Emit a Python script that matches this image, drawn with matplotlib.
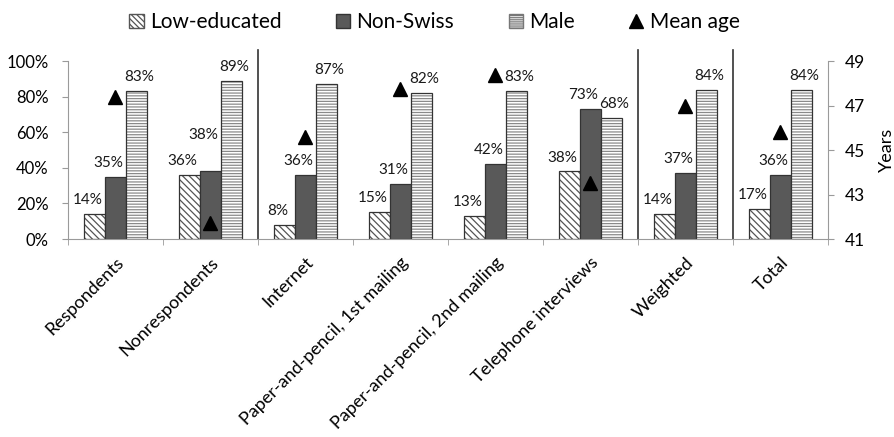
import numpy as np
import matplotlib
matplotlib.use("Agg")
import matplotlib.pyplot as plt
from matplotlib.patches import Patch
from matplotlib.lines import Line2D

plt.rcParams["font.family"] = ["Lato", "DejaVu Sans"]
plt.rcParams["hatch.linewidth"] = 0.9

# data
categories = ["Respondents", "Nonrespondents", "Internet",
              "Paper-and-pencil, 1st mailing", "Paper-and-pencil, 2nd mailing",
              "Telephone interviews", "Weighted", "Total"]
low_educated = [14, 36, 8, 15, 13, 38, 14, 17]
non_swiss = [35, 38, 36, 31, 42, 73, 37, 36]
male = [83, 89, 87, 82, 83, 68, 84, 84]
mean_age = [47.4, 41.7, 45.6, 47.75, 48.4, 43.5, 47.0, 45.8]
separators_after = [1, 5, 6]  # vertical lines after these categories

x = np.arange(len(categories))
w = 0.22
edge = "#333333"
axis_gray = "#9a9a9a"

fig = plt.figure(figsize=(8.94, 4.37), dpi=100)
ax = fig.add_axes([0.076, 0.453, 0.850, 0.407])


def hatched_bars(xpos, vals, hatch, hatch_color):
    # hatch drawn in its own colour, outline drawn on top in dark grey
    ax.bar(xpos, vals, w, facecolor="white", edgecolor=hatch_color, hatch=hatch,
           linewidth=0)
    return ax.bar(xpos, vals, w, facecolor="none", edgecolor=edge, linewidth=0.9)


b1 = hatched_bars(x - w, low_educated, "\\\\\\\\\\", "#555555")
b2 = ax.bar(x, non_swiss, w, facecolor="#595959", edgecolor=edge, linewidth=0.9)
b3 = hatched_bars(x + w, male, "------", "#8a8a8a")

# value labels, nudged like in the original (Excel moved one label up)
nudge = {(1, 1): 16}
for k, (bars, vals, dx) in enumerate([(b1, low_educated, -5), (b2, non_swiss, -5),
                                      (b3, male, 2)]):
    for i, (rect, v) in enumerate(zip(bars, vals)):
        dy = 5 + nudge.get((k, i), 0)
        ax.annotate(f"{v}%", (rect.get_x() + rect.get_width() / 2, v),
                    xytext=(dx, dy), textcoords="offset points",
                    ha="center", va="bottom", fontsize=11, color="#1a1a1a")

ax.set_xlim(-0.5, len(categories) - 0.5)
ax.set_ylim(0, 100)
ax.set_yticks(range(0, 101, 20))
ax.set_yticklabels([f"{v}%" for v in range(0, 101, 20)], fontsize=12)
ax.set_xticks(x)
ax.set_xticklabels(categories, rotation=45, ha="right", va="top",
                   rotation_mode="anchor", fontsize=13)
ax.set_xticks(np.arange(-0.5, len(categories), 1), minor=True)
ax.tick_params(axis="x", which="major", length=0, pad=11)
ax.tick_params(axis="x", which="minor", length=4.5, color=axis_gray, direction="out")
ax.tick_params(axis="y", length=4.5, color=axis_gray, pad=9.5)
for s in ["top", "right"]:
    ax.spines[s].set_visible(False)
for s in ["left", "bottom"]:
    ax.spines[s].set_color(axis_gray)

for i in separators_after:
    ax.axvline(i + 0.5, ymin=0, ymax=1.065, color="#333333", lw=1.2, clip_on=False)

# mean age on secondary axis
ax2 = ax.twinx()
ax2.plot(x, mean_age, linestyle="none", marker="^", markersize=9.5, color="black")
ax2.set_ylim(41, 49)
ax2.set_yticks(range(41, 50, 2))
ax2.tick_params(axis="y", labelsize=12.5, length=4.5, color=axis_gray, pad=8)
ax2.set_ylabel("Years", fontsize=13, labelpad=10)
for s in ["top", "left", "bottom"]:
    ax2.spines[s].set_visible(False)
ax2.spines["right"].set_color(axis_gray)

handles = [
    Patch(facecolor="white", edgecolor="#555555", hatch="\\\\\\\\\\\\", label="Low-educated"),
    Patch(facecolor="#595959", edgecolor=edge, label="Non-Swiss"),
    Patch(facecolor="white", edgecolor="#777777", hatch="--------", label="Male"),
    Line2D([], [], linestyle="none", marker="^", markersize=10, color="black",
           label="Mean age"),
]
fig.legend(handles=handles, loc="upper center", bbox_to_anchor=(0.486, 1.015),
           ncol=4, frameon=False, fontsize=15, handlelength=0.7,
           handleheight=0.7, handletextpad=0.3, columnspacing=2.6)

fig.savefig("out.png", dpi=100)
